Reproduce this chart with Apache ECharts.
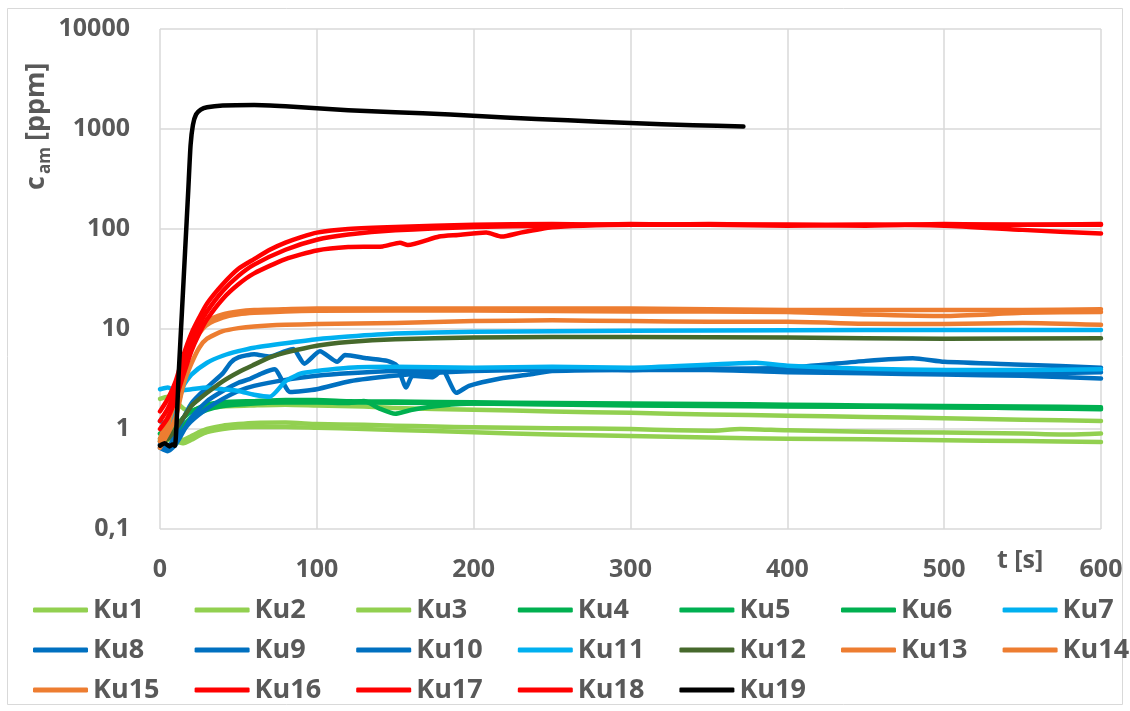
<!DOCTYPE html>
<html>
<head>
<meta charset="utf-8">
<script src="https://cdn.jsdelivr.net/npm/echarts@6/dist/echarts.min.js"></script>
<style>
  html, body { margin: 0; padding: 0; background: #fff; }
  #chart { width: 1130px; height: 711px; }
</style>
</head>
<body>
<div id="chart"></div>
<script>
// Ammonia concentration c_am [ppm] over time t [s] for runs Ku1..Ku19
const seriesNames = ['Ku1','Ku2','Ku3','Ku4','Ku5','Ku6','Ku7','Ku8','Ku9','Ku10',
                     'Ku11','Ku12','Ku13','Ku14','Ku15','Ku16','Ku17','Ku18','Ku19'];
const seriesColors = ['#92D050','#92D050','#92D050','#00B050','#00B050','#00B050','#00B0F0',
                      '#0070C0','#0070C0','#0070C0','#00B0F0','#46692C','#ED7D31','#ED7D31',
                      '#ED7D31','#FF0000','#FF0000','#FF0000','#000000'];
const xTicks = [0, 100, 200, 300, 400, 500, 600];
const yTicks = [0.1, 1, 10, 100, 1000, 10000];

// [t, c] pairs per run
const ku1 = [[0,0.9],[5,0.85],[10,0.8],[15,0.78],[20,0.85],[25,0.93],[30,1.0],[40,1.08],[50,1.12],[60,1.15],[80,1.16],[100,1.12],[130,1.1],[150,1.08],[175,1.06],[200,1.04],[250,1.02],[300,1.0],[330,0.97],[350,0.96],[370,1.0],[400,0.97],[450,0.94],[500,0.92],[550,0.9],[580,0.88],[600,0.9]];
const ku2 = [[0,0.8],[5,0.78],[10,0.75],[15,0.72],[20,0.78],[25,0.86],[30,0.93],[40,1.0],[50,1.04],[60,1.05],[80,1.05],[100,1.03],[130,1.0],[150,0.98],[200,0.93],[250,0.88],[300,0.85],[350,0.82],[400,0.8],[450,0.79],[500,0.77],[550,0.76],[600,0.74]];
const ku3 = [[0,2.0],[5,2.1],[10,1.9],[15,1.6],[20,1.5],[30,1.6],[40,1.68],[60,1.72],[80,1.75],[100,1.72],[130,1.68],[150,1.62],[200,1.56],[250,1.5],[300,1.45],[350,1.4],[400,1.36],[450,1.32],[500,1.28],[550,1.24],[600,1.2]];
const ku4 = [[0,0.8],[5,0.85],[10,1.0],[15,1.3],[20,1.5],[30,1.75],[40,1.85],[60,1.9],[80,1.95],[100,1.95],[120,1.9],[150,1.88],[200,1.85],[250,1.82],[300,1.8],[350,1.78],[400,1.75],[450,1.72],[500,1.7],[550,1.68],[600,1.65]];
const ku5 = [[0,0.9],[5,1.0],[10,1.1],[20,1.5],[30,1.7],[40,1.8],[60,1.85],[80,1.85],[100,1.85],[120,1.82],[130,1.9],[140,1.6],[150,1.42],[160,1.55],[180,1.72],[200,1.8],[250,1.78],[300,1.75],[400,1.7],[500,1.65],[600,1.6]];
const ku6 = [[0,0.75],[5,0.8],[10,0.9],[20,1.3],[30,1.55],[40,1.7],[60,1.8],[80,1.85],[100,1.85],[150,1.83],[200,1.8],[300,1.72],[400,1.68],[500,1.65],[600,1.58]];
const ku7 = [[0,1.2],[5,1.1],[10,1.5],[15,2.7],[20,3.5],[30,4.6],[40,5.4],[50,6.0],[60,6.5],[80,7.2],[100,7.9],[120,8.4],[150,9.0],[200,9.4],[250,9.5],[300,9.6],[400,9.7],[500,9.8],[600,9.8]];
const ku8 = [[0,0.7],[5,0.65],[10,0.9],[20,1.8],[30,2.6],[40,3.6],[45,4.6],[50,5.2],[60,5.6],[70,5.3],[80,6.0],[85,6.3],[92,4.5],[102,6.0],[113,4.7],[118,5.5],[132,5.1],[145,4.8],[151,4.3],[157,2.6],[161,3.4],[174,3.3],[180,3.9],[189,2.3],[197,2.7],[217,3.2],[235,3.5],[250,3.8],[300,3.9],[350,3.9],[400,3.7],[450,3.6],[500,3.5],[550,3.4],[600,3.2]];
const ku9 = [[0,0.65],[5,0.6],[10,0.7],[20,1.3],[30,1.9],[40,2.4],[50,2.9],[57,3.15],[65,3.6],[73,3.95],[83,2.35],[100,2.5],[121,3.0],[149,3.4],[170,3.6],[200,3.8],[230,3.9],[250,3.95],[300,3.9],[350,4.0],[400,4.1],[450,4.8],[480,5.1],[500,4.7],[550,4.4],[600,4.1]];
const ku10 = [[0,0.7],[5,0.68],[10,0.8],[20,1.2],[30,1.6],[40,2.0],[50,2.4],[60,2.7],[80,3.1],[100,3.4],[120,3.6],[150,3.8],[200,3.9],[250,4.0],[300,3.9],[350,4.0],[400,3.9],[450,3.8],[500,3.7],[550,3.6],[600,3.7]];
const ku11 = [[0,2.5],[5,2.6],[10,2.4],[20,2.5],[30,2.6],[40,2.5],[50,2.4],[60,2.2],[70,2.1],[80,3.0],[90,3.6],[100,3.8],[120,4.1],[150,4.2],[200,4.1],[250,4.2],[300,4.1],[350,4.4],[380,4.6],[400,4.3],[450,4.0],[500,3.9],[550,3.9],[600,3.95]];
const ku12 = [[0,0.75],[5,0.8],[10,1.0],[15,1.3],[20,1.7],[30,2.3],[40,3.0],[50,3.7],[60,4.4],[70,5.2],[80,5.8],[100,6.8],[120,7.4],[150,7.9],[200,8.2],[250,8.3],[300,8.3],[400,8.2],[500,8.0],[600,8.1]];
const ku13 = [[0,0.8],[5,1.3],[10,2.5],[15,4.5],[20,7.5],[25,10],[30,12],[40,14],[50,15],[60,15.5],[80,15.8],[100,16],[150,16],[200,16],[300,16],[400,15.5],[450,15.5],[500,15.5],[550,15.5],[600,15.8]];
const ku14 = [[0,0.75],[5,1.1],[10,2.0],[15,3.8],[20,6.5],[25,9],[30,11],[40,13],[50,14],[60,14.5],[80,15],[100,15.2],[200,15.3],[300,15],[400,14.8],[450,14],[500,13.5],[550,14.5],[600,14.8]];
const ku15 = [[0,0.65],[5,0.9],[10,1.3],[15,2.8],[20,4.5],[25,6.5],[30,8],[40,9.5],[50,10.2],[60,10.6],[80,11],[100,11.2],[150,11.5],[200,12],[250,12.2],[300,12],[350,11.8],[400,11.8],[450,11.3],[500,11.2],[550,11.5],[600,11]];
const ku16 = [[0,1.5],[5,2.0],[10,3.0],[15,5.5],[20,9],[25,13],[30,18],[40,28],[50,40],[60,50],[70,62],[80,73],[90,83],[100,92],[120,100],[150,105],[200,110],[250,112],[300,110],[350,112],[400,110],[450,108],[500,112],[550,110],[600,112]];
const ku17 = [[0,1.2],[5,1.6],[10,2.5],[15,4.5],[20,7.5],[25,11],[30,15],[40,24],[50,34],[60,44],[80,62],[100,78],[120,88],[150,97],[200,105],[250,108],[300,112],[350,110],[400,108],[450,110],[500,108],[550,98],[600,90]];
const ku18 = [[0,1.0],[5,1.3],[10,2.0],[15,3.5],[20,6],[25,9],[30,12.5],[40,20],[50,28],[60,36],[80,50],[100,61],[120,66],[142,67],[153,73],[158,69],[178,84],[190,87],[208,92],[218,84],[230,92],[250,104],[270,108],[300,110],[400,110],[500,110],[600,110]];
const ku19 = [[0,0.68],[3,0.72],[6,0.67],[8,0.7],[9.5,0.68],[12,3.8],[14,15],[16,60],[18,240],[19.5,690],[21,1100],[23,1400],[26,1560],[30,1650],[40,1720],[60,1740],[80,1690],[100,1610],[120,1540],[150,1470],[185,1400],[220,1300],[260,1220],[300,1150],[340,1090],[372,1060]];

const seriesData = [ku1,ku2,ku3,ku4,ku5,ku6,ku7,ku8,ku9,ku10,ku11,ku12,ku13,ku14,ku15,ku16,ku17,ku18,ku19];

const textGray = '#595959';
const font = 'Open Sans';

const chart = echarts.init(document.getElementById('chart'));

const series = seriesNames.map((name, i) => ({
  name: name,
  type: 'line',
  data: seriesData[i],
  showSymbol: false,
  smooth: 0.2,
  color: seriesColors[i],
  lineStyle: { width: 4.5, color: seriesColors[i], cap: 'round', join: 'round' },
  emphasis: { disabled: true },
  z: 2 + i
}));

// legend laid out as a 7-column grid: one vertical legend per column
const legends = [];
for (let c = 0; c < 7; c++) {
  const names = [];
  for (let r = 0; r < 3; r++) {
    const k = r * 7 + c;
    if (k < seriesNames.length) names.push(seriesNames[k]);
  }
  legends.push({
    orient: 'vertical',
    left: 33 + c * 161.6,
    top: 596,
    height: 115,
    padding: 0,
    data: names,
    icon: 'roundRect',
    itemWidth: 55,
    itemHeight: 5,
    itemGap: 12,
    selectedMode: false,
    textStyle: { color: textGray, fontFamily: font, fontWeight: 'bold', fontSize: 27, lineHeight: 28, padding: 0 }
  });
}

const option = {
  animation: false,
  backgroundColor: '#ffffff',
  grid: { left: 160, right: 29, top: 29, bottom: 182, containLabel: false },
  xAxis: {
    type: 'value',
    min: xTicks[0],
    max: xTicks[xTicks.length - 1],
    interval: 100,
    axisLine: { show: false },
    axisTick: { show: false },
    splitLine: { show: true, lineStyle: { color: '#D9D9D9', width: 1.5 } },
    axisLabel: { margin: 28, color: textGray, fontFamily: font, fontWeight: 'bold', fontSize: 25 }
  },
  yAxis: {
    type: 'log',
    logBase: 10,
    min: yTicks[0],
    max: yTicks[yTicks.length - 1],
    axisLine: { show: false },
    axisTick: { show: false },
    splitLine: { show: true, lineStyle: { color: '#D9D9D9', width: 1.5 } },
    minorSplitLine: { show: false },
    axisLabel: {
      margin: 30,
      color: textGray, fontFamily: font, fontWeight: 'bold', fontSize: 25,
      formatter: function (v) {
        if (v < 0.5) return '0,1';
        return String(Math.round(v));
      }
    }
  },
  legend: legends,
  series: series,
  graphic: [
    {
      type: 'rect', silent: true, z: -1,
      shape: { x: 7.5, y: 8.5, width: 1115, height: 696 },
      style: { fill: 'none', stroke: '#D9D9D9', lineWidth: 1 }
    },
    {
      type: 'text', silent: true,
      left: 997, top: 548,
      style: { text: 't [s]', fill: textGray, font: 'bold 25px "Open Sans"' }
    },
    {
      type: 'group', silent: true,
      x: 36, y: 190, rotation: Math.PI / 2,
      children: [
        { type: 'text', x: 0, y: 0, style: { text: 'c', fill: textGray, font: 'bold 27px "Open Sans"', textVerticalAlign: 'middle', textAlign: 'left' } },
        { type: 'text', x: 16, y: 9, style: { text: 'am', fill: textGray, font: 'bold 17px "Open Sans"', textVerticalAlign: 'middle', textAlign: 'left' } },
        { type: 'text', x: 49, y: 0, style: { text: '[ppm]', fill: textGray, font: 'bold 27px "Open Sans"', textVerticalAlign: 'middle', textAlign: 'left' } }
      ]
    }
  ]
};

chart.setOption(option);
</script>
</body>
</html>
